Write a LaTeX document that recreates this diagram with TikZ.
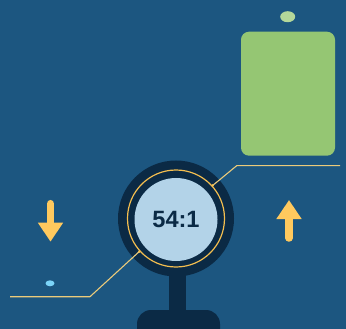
\documentclass[tikz,border=0pt]{standalone}
\usepackage{fontspec}
\setmainfont{Liberation Sans}
\usetikzlibrary{arrows.meta, shapes.geometric}

\definecolor{bgblue}{HTML}{1C5680}
\definecolor{navy}{HTML}{0B2A45}
\definecolor{lensblue}{HTML}{B3D3E8}
\definecolor{ringgold}{HTML}{F4BE4F}
\definecolor{leadgold}{HTML}{EBCB7B}
\definecolor{arrowgold}{HTML}{FFC95E}
\definecolor{cellgreen}{HTML}{95C673}
\definecolor{budgreen}{HTML}{B4D89A}
\definecolor{dotblue}{HTML}{7CD4F8}

\tikzset{
  lead/.style={leadgold, line width=1.1pt},
  flowarrow/.style={arrowgold, line width=7.5pt, line cap=round, -{Triangle[length=19pt, width=24pt]}},
  junction/.style={circle, fill=ringgold, inner sep=0pt, minimum size=3pt}
}

\begin{document}
\begin{tikzpicture}[x=1pt, y=-1pt]
                \useasboundingbox (0,0) rectangle (346,329);
                \fill[bgblue] (0,0) rectangle (346,329);
                % big cell and its bud
                \node[fill=cellgreen, rounded corners=8pt, minimum width=94pt, minimum height=124pt, inner sep=0pt] (cell) at (288,93.7) {};
                \node[ellipse, fill=budgreen, minimum width=15pt, minimum height=11pt, inner sep=0pt] (bud) at (287.7,16.7) {};
                % small cell
                \node[ellipse, fill=dotblue, minimum width=9pt, minimum height=6pt, inner sep=0pt] (speck) at (50,283.3) {};
                % magnifier stand
                \fill[navy] (137,329) [rounded corners=14pt] -- (137,310) -- (220,310) [sharp corners] -- (220,329) -- cycle;
                \fill[navy] (169,255) rectangle (186,312);
                % magnifier lens
                \node[circle, fill=navy, minimum size=116pt, inner sep=0pt] (frame) at (176,218.5) {};
                \node[circle, draw=ringgold, line width=1.2pt, minimum size=97pt, inner sep=0pt] (ring) at (176,218.5) {};
                \node[circle, fill=lensblue, minimum size=83pt, inner sep=0pt, text=navy, font=\bfseries\fontsize{23.6}{26}\selectfont] (lens) at (176,219.5) {54:1};
                % leader lines
                \coordinate (upbend) at (236.7,165.7);
                \coordinate (upend) at (340,165.7);
                \coordinate (lowbend) at (90,296.7);
                \coordinate (lowend) at (10,296.7);
                \draw[lead] (ring.42) -- (upbend) -- (upend);
                \draw[lead] (ring.222) -- (lowbend) -- (lowend);
                \node[junction] (topdot) at (ring.42) {};
                \node[junction] (lowdot) at (ring.222) {};
                % arrows
                \coordinate (downtail) at (50.5,203.7);
                \coordinate (downtip) at (50.5,241.7);
                \coordinate (uptail) at (289,238);
                \coordinate (uptip) at (289,200);
                \draw[flowarrow] (downtail) -- (downtip);
                \draw[flowarrow] (uptail) -- (uptip);
            \end{tikzpicture}
\end{document}
